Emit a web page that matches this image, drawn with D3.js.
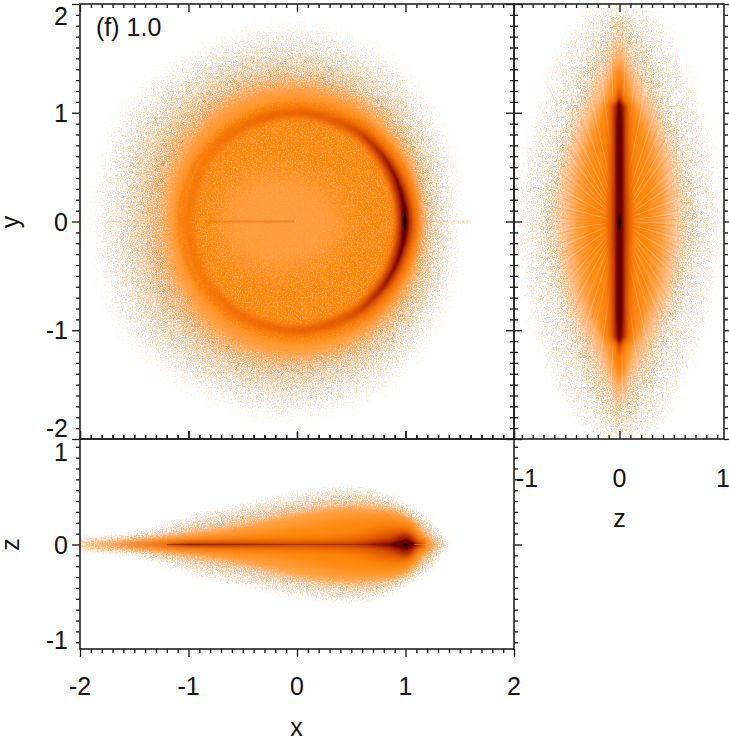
<!DOCTYPE html>
<html><head><meta charset="utf-8">
<script src="https://cdn.jsdelivr.net/npm/d3@7"></script>
<style>html,body{margin:0;padding:0;background:#fff}svg{display:block}text{font-family:"Liberation Sans",Arial,sans-serif;fill:#111}</style>
</head><body><svg id="c" width="729" height="740"></svg>
<script>
// ---------- values ----------
const panelLabel = "(f) 1.0";
const majorXY = [-2,-1,0,1,2];
const majorZ = [-1,0,1];
const levelColors = ["#ffe2cc","#ffcfa6","#ffb574","#ff9a34","#ff8a10","#f27000","#d85000","#a82000","#640000","#000000"];

// x-y panel: iso-density radii from the origin, one per angle
const haloAngles = [0,30,60,90,120,150,180,210,240,270,300,330];
const haloR0 = [1.46,1.54,1.68,1.76,1.78,1.86,1.82,1.86,1.78,1.76,1.68,1.54];
const haloR1 = [1.32,1.40,1.50,1.56,1.60,1.64,1.60,1.64,1.60,1.56,1.50,1.40];
const haloR2 = [1.22,1.27,1.32,1.37,1.40,1.42,1.38,1.42,1.40,1.37,1.32,1.27];
const haloR3 = [1.15,1.17,1.21,1.24,1.25,1.23,1.20,1.23,1.25,1.24,1.21,1.17];
const haloR4 = [1.11,1.11,1.12,1.12,1.12,1.11,1.11,1.11,1.12,1.12,1.12,1.11];
const centreR = [0.45,0.42,0.40,0.42,0.52,0.66,0.70,0.66,0.52,0.42,0.40,0.42];

// x-y panel: the ring, inner and outer radius by angle
const ringAngles = [-180,-150,-120,-90,-60,-45,-30,-15,0,15,30,45,60,90,120,150,180];
const ringAIn  = [.96,.96,.95,.94,.93,.92,.91,.90,.90,.90,.91,.92,.93,.94,.95,.96,.96];
const ringAOut = [1.08,1.08,1.08,1.08,1.09,1.10,1.11,1.12,1.13,1.12,1.11,1.10,1.09,1.08,1.08,1.08,1.08];
const ringBIn  = [1,1,.99,.98,.955,.935,.925,.92,.92,.92,.925,.935,.955,.98,.99,1,1];
const ringBOut = [1,1,1.01,1.02,1.035,1.05,1.055,1.065,1.08,1.065,1.055,1.05,1.035,1.02,1.01,1,1];
const ringCIn  = [1,1,1,1,.995,.975,.96,.945,.94,.945,.96,.975,.995,1,1,1,1];
const ringCOut = [1,1,1,1,1,1.01,1.025,1.035,1.05,1.035,1.025,1.01,1,1,1,1,1];
const ringDIn  = [1,1,1,1,1,1,.99,.98,.965,.98,.99,1,1,1,1,1,1];
const ringDOut = [1,1,1,1,1,1,1,1.01,1.025,1.01,1,1,1,1,1,1,1];
// thin bright and dark arcs on the left of the ring
const arcAngles = [145,155,170,180,190,205,215];
const arcLight = [1.045,1.045,1.04,1.04,1.04,1.045,1.045];
const arcDark  = [1.08,1.085,1.09,1.09,1.09,1.085,1.08];

// x-z panel: half thickness at each x
const xzX  = [-2,-1.5,-1.2,-1,-.5,0,.5,.85,.95,1,1.05,1.1,1.2,1.3,1.38];
const xzH0 = [.025,.09,.18,.25,.36,.46,.52,.44,.40,.36,.33,.30,.24,.12,0];
const xzH1 = [.015,.06,.12,.17,.27,.37,.43,.38,.34,.31,.28,.25,.18,.06,0];
const xzH2 = [.012,.035,.07,.10,.18,.29,.35,.32,.29,.27,.24,.19,.07,0,0];
const xzH3 = [.004,.012,.03,.05,.10,.17,.25,.26,.24,.22,.18,.12,.02,0,0];
const xzH4 = [.003,.005,.012,.02,.035,.05,.09,.17,.17,.16,.13,.07,0,0,0];
const xzH4b= [0,.002,.006,.012,.015,.018,.03,.11,.125,.125,.10,.04,0,0,0];
const xzH5 = [0,.002,.005,.01,.01,.007,.008,.045,.085,.10,.075,.02,0,0,0];
const xzH6 = [0,0,0,.004,.003,.001,.001,.012,.04,.05,.035,.004,0,0,0];

// z-y panel: half width in z at each y
const zyY  = [-2,-1.8,-1.5,-1.3,-1.13,-1.05,-.8,-.4,-.15,0,.15,.4,.8,1.05,1.13,1.3,1.5,1.8,2];
const zyW0 = [.22,.40,.56,.64,.70,.73,.80,.88,.93,.94,.93,.88,.80,.73,.70,.64,.56,.40,.22];
const zyW1 = [0,.12,.30,.38,.42,.46,.55,.66,.72,.74,.72,.66,.55,.46,.42,.38,.30,.12,0];
const zyW2 = [0,0,.08,.20,.28,.32,.42,.52,.55,.55,.55,.52,.42,.32,.28,.20,.08,0,0];
const zyW3 = [0,0,.02,.09,.15,.19,.30,.40,.42,.42,.42,.40,.30,.19,.15,.09,.02,0,0];
const zyW4 = [0,0,0,.05,.10,.14,.22,.28,.30,.30,.30,.28,.22,.14,.10,.05,0,0,0];
const zyW5 = [0,0,0,.01,.05,.10,.11,.115,.125,.13,.125,.115,.11,.10,.05,.01,0,0,0];
const zyW6 = [0,0,0,0,.02,.075,.08,.085,.09,.09,.09,.085,.08,.075,.02,0,0,0,0];
const zyW7 = [0,0,0,0,.005,.05,.05,.05,.055,.055,.055,.05,.05,.05,.005,0,0,0,0];
const zyW8 = [0,0,0,0,0,.02,.03,.03,.03,.03,.03,.03,.03,.02,0,0,0,0,0];
// z-y panel: streaks from the origin, angle from the +z axis and length
const rayAngles = [2,7,11,16,19,24,28,33,37,41,46,50,53,57,61,64,68,71,74,77,80,83,86,89,
  92,95,98,101,104,107,111,114,118,121,125,129,132,136,141,145,149,153,158,163,168,172,177,
  182,186,191,196,200,205,209,214,218,223,227,231,235,239,243,247,250,254,257,260,263,266,269,
  272,275,278,281,284,288,291,295,298,302,306,310,314,318,322,327,332,336,341,346,351,356];
const rayLen = [.82,.78,.9,.72,.85,.8,.98,.86,1.02,.94,1.1,1.0,1.25,1.15,1.38,1.22,1.5,1.4,1.62,1.5,1.7,1.76,1.62,1.9,
  1.84,1.66,1.78,1.55,1.7,1.42,1.6,1.3,1.46,1.18,1.32,1.1,1.2,1.0,1.08,.92,.98,.82,.9,.78,.86,.74,.88,
  .84,.76,.9,.8,.94,.84,1.0,.92,1.12,1.0,1.26,1.12,1.36,1.22,1.52,1.36,1.66,1.5,1.72,1.62,1.8,1.68,1.9,
  1.72,1.82,1.58,1.74,1.46,1.62,1.34,1.5,1.2,1.36,1.12,1.22,1.02,1.1,.96,1.04,.88,.94,.8,.88,.76,.82];
const rayGap = [8,21,35,44,55,60,66,72,79,84,88,93,97,103,109,116,122,127,133,139,151,166,188,203,216,229,235,241,247,252,257,262,267,271,277,283,288,293,298,304,310,316,329,344,358];

// ---------- layout ----------
const svg = d3.select("#c");
const L=80, M=514, R=724, T=4, B=439, E=649;
const unit = 108.6;
const x = d3.scaleLinear().domain([-2,2]).range([L,M]);
const y = d3.scaleLinear().domain([-2,2]).range([B,T]);
const zx = d3.scaleLinear().domain([-1,1]).range([619.5-unit,619.5+unit]);
const zy = d3.scaleLinear().domain([-1,1]).range([544.5+unit,544.5-unit]);
const colour = d3.scaleOrdinal().domain(d3.range(levelColors.length)).range(levelColors);

// ---------- filters: stipple texture and soft edges ----------
const defs = svg.append("defs");
function clip(id,a,b,w,h){defs.append("clipPath").attr("id",id).append("rect").attr("x",a).attr("y",b).attr("width",w).attr("height",h);}
clip("cXY",L,T,M-L,B-T); clip("cZY",M,T,R-M,B-T); clip("cXZ",L,B,M-L,E-B);
function base(id){return defs.append("filter").attr("id",id).attr("filterUnits","userSpaceOnUse")
    .attr("x",0).attr("y",0).attr("width",729).attr("height",740)
    .attr("color-interpolation-filters","sRGB");}
function stipple(id,sigma,k,col,seed){
  const f=base(id);
  f.append("feGaussianBlur").attr("in","SourceAlpha").attr("stdDeviation",sigma).attr("result","soft");
  f.append("feTurbulence").attr("type","fractalNoise").attr("baseFrequency",0.8).attr("numOctaves",2).attr("seed",seed).attr("result","n");
  f.append("feColorMatrix").attr("in","n").attr("type","matrix")
    .attr("values","0 0 0 0 0  0 0 0 0 0  0 0 0 0 0  3.4 0 0 0 -1.2").attr("result","m");
  f.append("feComposite").attr("in","soft").attr("in2","m").attr("operator","arithmetic")
    .attr("k1",0).attr("k2",k).attr("k3",k).attr("k4",-k).attr("result","mask");
  f.append("feFlood").attr("flood-color",col).attr("result","fl");
  f.append("feComposite").attr("in","fl").attr("in2","mask").attr("operator","in");
}
stipple("s0",12,2,"#ffdcc4",3);
stipple("s1",11,2.2,"#ffcaa0",7);
stipple("s2",9,2.6,"#ffb070",11);
stipple("r0",8,2,"#ffd8bc",13);
stipple("r1",7,2.2,"#ffc090",17);
stipple("p0",4,2.2,"#ffdcc4",19);
stipple("p1",4,2.6,"#ffc498",23);
stipple("tex",3,3,"#ffa24a",29);
{const f=base("brk");
 f.append("feTurbulence").attr("type","fractalNoise").attr("baseFrequency",0.7).attr("numOctaves",2).attr("seed",31).attr("result","n");
 f.append("feColorMatrix").attr("in","n").attr("type","matrix").attr("values","0 0 0 0 0  0 0 0 0 0  0 0 0 0 0  4 0 0 0 -1.4").attr("result","m");
 f.append("feComposite").attr("in","SourceGraphic").attr("in2","m").attr("operator","in");}
function soft(id,s){base(id).append("feGaussianBlur").attr("stdDeviation",s);}
soft("b05",.5);soft("b1",1);soft("b15",1.5);soft("b2",2);soft("b25",2.5);soft("b3",3);soft("b4",4);soft("b6",6);soft("b10",12);

// ---------- x-y panel ----------
const gXY = svg.append("g").attr("clip-path","url(#cXY)");
const polar = r => d3.line().curve(d3.curveCatmullRomClosed)
  .x((d,i)=>x(r[i]*Math.cos(d*Math.PI/180))).y((d,i)=>y(r[i]*Math.sin(d*Math.PI/180)));
function halo(g,r,col,f,op){g.append("path").datum(haloAngles).attr("d",polar(r)).attr("fill",col).attr("fill-opacity",op||1).attr("filter",`url(#${f})`);}
halo(gXY,haloR0,colour(0),"s0",.62);
halo(gXY,haloR1,colour(1),"s1",.85);
halo(gXY,haloR2,colour(2),"s2",1);
halo(gXY,haloR3,colour(3),"b6");
halo(gXY,haloR4,colour(4),"b3");
function ring(inner,outer,lv,f,op){
  const a = d3.area().curve(d3.curveCatmullRom)
    .x0((d,i)=>x(inner[i]*Math.cos(d*Math.PI/180))).y0((d,i)=>y(inner[i]*Math.sin(d*Math.PI/180)))
    .x1((d,i)=>x(outer[i]*Math.cos(d*Math.PI/180))).y1((d,i)=>y(outer[i]*Math.sin(d*Math.PI/180)));
  gXY.append("path").datum(ringAngles).attr("d",a).attr("fill",colour(lv)).attr("filter",`url(#${f})`).attr("opacity",op||1);
}
gXY.append("path").datum(haloAngles).attr("d",polar(centreR)).attr("fill","#ffa24a").attr("opacity",.75).attr("filter","url(#b10)");
halo(gXY,haloR4,"#ffa24a","tex",.36);
ring(ringAIn,ringAOut,5,"b3",.72);
ring(ringBIn,ringBOut,6,"b25",.78);
ring(ringCIn,ringCOut,7,"b2");
ring(ringDIn,ringDOut,8,"b1");
function arc(r,col,op){
  gXY.append("path").datum(arcAngles).attr("d",d3.line().curve(d3.curveCatmullRom)
    .x((d,i)=>x(r[i]*Math.cos(d*Math.PI/180))).y((d,i)=>y(r[i]*Math.sin(d*Math.PI/180))))
    .attr("fill","none").attr("stroke",col).attr("stroke-width",1.4).attr("opacity",op).attr("filter","url(#b1)");
}
arc(arcLight,"#ff9c38",.4);
arc(arcDark,"#ee6c00",.3);
// the faint line along y = 0
gXY.append("line").attr("x1",x(-.85)).attr("x2",x(-.02)).attr("y1",y(0)).attr("y2",y(0)).attr("stroke","#e86400").attr("stroke-width",2.2).attr("opacity",.45).attr("filter","url(#b05)");
gXY.append("line").attr("x1",x(-1.75)).attr("x2",x(-1.1)).attr("y1",y(0)).attr("y2",y(0)).attr("stroke","#ffa050").attr("stroke-width",1.5).attr("opacity",.35).attr("filter","url(#b05)");
gXY.append("line").attr("x1",x(1.12)).attr("x2",x(1.6)).attr("y1",y(0)).attr("y2",y(0)).attr("stroke","#ff9a40").attr("stroke-width",2).attr("opacity",.5).attr("filter","url(#brk)");
gXY.append("ellipse").attr("cx",x(.995)).attr("cy",y(0)).attr("rx",1.3).attr("ry",9).attr("fill",colour(9)).attr("filter","url(#b05)");

// ---------- z-y panel ----------
const gZY = svg.append("g").attr("clip-path","url(#cZY)");
function spindle(g,w,col,f,op){
  const a=d3.area().curve(d3.curveMonotoneY).y((d)=>y(d)).x0((d,i)=>zx(-w[i])).x1((d,i)=>zx(w[i]));
  g.append("path").datum(zyY).attr("d",a).attr("fill",col).attr("fill-opacity",op||1).attr("filter",`url(#${f})`);
}
function rayLines(g,scale,col,w,op){
  g.selectAll("line").data(rayAngles).join("line")
  .attr("x1",zx(0)).attr("y1",y(0))
  .attr("x2",(d,i)=>zx(scale*rayLen[i]*Math.cos(d*Math.PI/180)))
  .attr("y2",(d,i)=>y(scale*rayLen[i]*Math.sin(d*Math.PI/180)))
  .attr("stroke",col).attr("stroke-width",w).attr("opacity",op);
}
spindle(gZY,zyW0,colour(0),"r0",.5);
spindle(gZY,zyW1,colour(1),"r1",.66);
rayLines(gZY.append("g").attr("filter","url(#brk)"),1,"#ffa050",.8,.42);
spindle(gZY,zyW2,colour(2),"b6",.85);
spindle(gZY,zyW3,colour(3),"b4");
spindle(gZY,zyW4,colour(4),"b3");
rayLines(gZY.append("g"),.62,"#f07000",.9,.26);
gZY.append("g").selectAll("line").data(rayGap).join("line")
  .attr("x1",zx(0)).attr("y1",y(0))
  .attr("x2",d=>zx(1.9*Math.cos(d*Math.PI/180)))
  .attr("y2",d=>y(1.9*Math.sin(d*Math.PI/180)))
  .attr("stroke","#fff").attr("stroke-width",.8).attr("opacity",.3);
spindle(gZY,zyW5,colour(5),"b3");
spindle(gZY,zyW6,colour(6),"b2");
spindle(gZY,zyW7,colour(7),"b15");
spindle(gZY,zyW8,colour(8),"b1");
gZY.append("ellipse").attr("cx",zx(0)).attr("cy",y(0)).attr("rx",1.1).attr("ry",9).attr("fill",colour(9)).attr("filter","url(#b05)");

// ---------- x-z panel ----------
const gXZ = svg.append("g").attr("clip-path","url(#cXZ)");
function wedge(h,col,f,op){
  const a=d3.area().curve(d3.curveMonotoneX).x(d=>x(d)).y0((d,i)=>zy(-h[i])).y1((d,i)=>zy(h[i]));
  gXZ.append("path").datum(xzX).attr("d",a).attr("fill",col).attr("fill-opacity",op||1).attr("filter",`url(#${f})`);
}
wedge(xzH0,colour(0),"p0",.85);
wedge(xzH1,colour(1),"p1",1);
wedge(xzH2,colour(3),"b3",.9);
wedge(xzH3,colour(4),"b4");
wedge(xzH4,colour(5),"b4");
wedge(xzH4b,colour(6),"b3");
wedge(xzH5,colour(7),"b2");
wedge(xzH6,colour(8),"b1");
gXZ.append("circle").attr("cx",x(.997)).attr("cy",zy(0)).attr("r",1.8).attr("fill",colour(9));
gXZ.append("line").attr("x1",x(1.08)).attr("x2",x(1.36)).attr("y1",zy(0)).attr("y2",zy(0)).attr("stroke","#ff9a40").attr("stroke-width",1).attr("opacity",.55);
gXZ.append("line").attr("x1",x(-1.2)).attr("x2",x(.8)).attr("y1",zy(0)).attr("y2",zy(0)).attr("stroke","#8a1400").attr("stroke-width",1.2).attr("opacity",.55);

// ---------- frames and ticks ----------
const minorXY = d3.range(-20,21).map(d=>d/10).filter(d=>!majorXY.includes(d));
const minorZ = d3.range(-9,10).map(d=>d/10).filter(d=>d!==0);
function ticks(axisFn,scale,tr,maj,mnr){
  [[mnr,4],[maj,8]].forEach(([vals,len])=>{
    const g=svg.append("g").attr("transform",tr).call(axisFn(scale).tickValues(vals).tickSize(-len).tickFormat(""));
    g.select(".domain").remove();
    g.selectAll("line").attr("stroke","#111").attr("stroke-width",1.3);
  });
}
const t=(a,b)=>`translate(${a},${b})`;
ticks(d3.axisBottom,x,t(0,B),majorXY,minorXY);
ticks(d3.axisTop,x,t(0,T),majorXY,minorXY);
ticks(d3.axisRight,y,t(L,0),majorXY,minorXY);
ticks(d3.axisLeft,y,t(M,0),majorXY,minorXY);
ticks(d3.axisBottom,zx,t(0,B),[0],minorZ);
ticks(d3.axisTop,zx,t(0,T),[0],minorZ);
ticks(d3.axisRight,y,t(M,0),majorXY,minorXY);
ticks(d3.axisLeft,y,t(R,0),majorXY,minorXY);
ticks(d3.axisTop,x,t(0,E),majorXY,minorXY);
ticks(d3.axisBottom,x,t(0,B),majorXY,minorXY);
ticks(d3.axisRight,zy,t(L,0),[0],minorZ);
ticks(d3.axisLeft,zy,t(M,0),[0],minorZ);

function frame(a,b,w,h){svg.append("rect").attr("x",a).attr("y",b).attr("width",w).attr("height",h).attr("fill","none").attr("stroke","#222").attr("stroke-width",1.6);}
frame(L,T,M-L,B-T); frame(M,T,R-M,B-T); frame(L,B,M-L,E-B);

// ---------- text ----------
const fs=25;
function txt(s,a,b,anchor){return svg.append("text").attr("x",a).attr("y",b).attr("text-anchor",anchor||"middle").attr("font-size",fs).text(s);}
const clamp=(v,a,b)=>Math.max(a,Math.min(b,v));
const lab=v=>String(v);
majorXY.forEach(v=>txt(lab(v),x(v),695));
majorXY.forEach(v=>txt(lab(v),68,clamp(y(v),T+12,B-11)+9,"end"));
majorZ.forEach(v=>txt(lab(v),68,clamp(zy(v),B+13,E-9)+9,"end"));
majorZ.forEach(v=>txt(lab(v),clamp(zx(v),M+13,R-1),487));
txt(panelLabel,96,36,"start");
txt("x",296.5,736);
txt("z",619.5,527);
function rot(s,b){svg.append("text").attr("transform",`translate(19,${b}) rotate(-90)`).attr("text-anchor","middle").attr("font-size",fs).text(s);}
rot("y",222);
rot("z",544.5);
</script></body></html>
